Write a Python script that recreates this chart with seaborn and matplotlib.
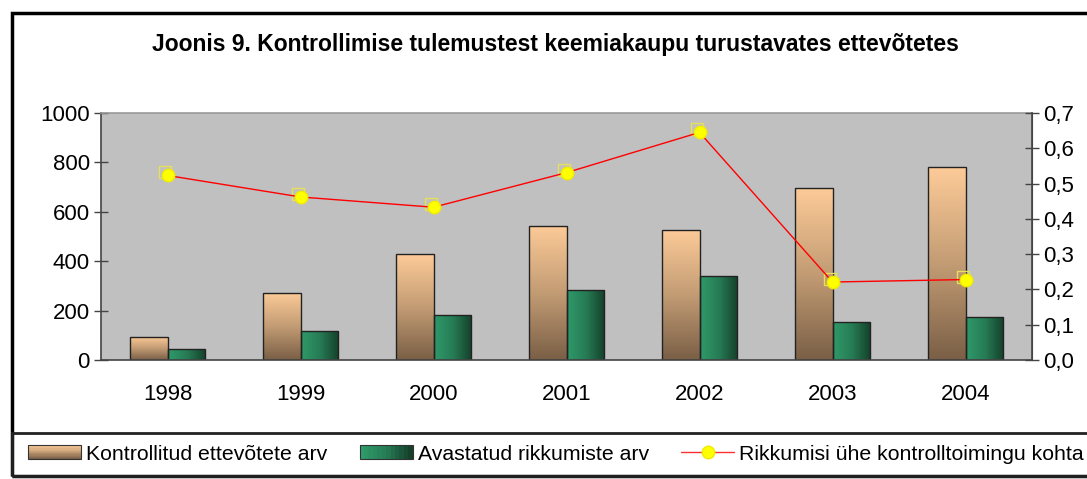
import numpy as np
import pandas as pd
import matplotlib.pyplot as plt
import seaborn as sns
from matplotlib.colors import LinearSegmentedColormap
from matplotlib.patches import Rectangle
from matplotlib.lines import Line2D
from matplotlib.legend_handler import HandlerBase
from matplotlib.transforms import ScaledTranslation

years = ["1998", "1999", "2000", "2001", "2002", "2003", "2004"]
kontrollitud = [94, 272, 429, 543, 528, 698, 781]
avastatud = [44, 118, 184, 282, 339, 152, 176]
rikkumisi = [0.523, 0.462, 0.433, 0.531, 0.645, 0.221, 0.228]

lbl_k = "Kontrollitud ettevõtete arv"
lbl_a = "Avastatud rikkumiste arv"
lbl_r = "Rikkumisi ühe kontrolltoimingu kohta"
title = "Joonis 9. Kontrollimise tulemustest keemiakaupu turustavates ettevõtetes"

brown_cmap = LinearSegmentedColormap.from_list("brown", ["#7a5f46", "#c39c74", "#fdcb98"])
green_cmap = LinearSegmentedColormap.from_list("green", ["#2f9a6a", "#267c55", "#15402a"])

df = pd.DataFrame({
    "year": years * 2,
    "value": kontrollitud + avastatud,
    "series": [lbl_k] * len(years) + [lbl_a] * len(years),
})

sns.set_style("white")
plt.rcParams["font.family"] = ["Liberation Sans", "DejaVu Sans"]
plt.rcParams["text.color"] = "black"
plt.rcParams["xtick.labelcolor"] = "black"
plt.rcParams["ytick.labelcolor"] = "black"

fig = plt.figure(figsize=(10.87, 4.79), dpi=100)
W, H = 1087, 479
ax = fig.add_axes([101 / W, 1 - 360 / H, (1032 - 101) / W, (360 - 113) / H])
ax.set_facecolor("#c0c0c0")

sns.barplot(data=df, x="year", y="value", hue="series", ax=ax, width=0.57,
            palette=["#c39c74", "#267c55"], edgecolor="#222222", linewidth=1,
            legend=False, saturation=1)

# gradient fills clipped to each bar
grad_v = np.linspace(0, 1, 256).reshape(-1, 1)
grad_h = np.linspace(0, 1, 256).reshape(1, -1)
for cont, cmap, grad in [(ax.containers[0], brown_cmap, grad_v),
                         (ax.containers[1], green_cmap, grad_h)]:
    for bar in cont:
        x0, y0 = bar.get_x(), bar.get_y()
        w, h = bar.get_width(), bar.get_height()
        im = ax.imshow(grad, cmap=cmap, aspect="auto", origin="lower",
                       extent=[x0, x0 + w, y0, y0 + h], zorder=bar.get_zorder())
        im.set_clip_path(bar)
        bar.set_facecolor("none")
        bar.set_zorder(bar.get_zorder() + 0.5)

ax.set_xlim(-0.5, len(years) - 0.5)
ax.set_ylim(0, 1000)
ax.set_yticks(range(0, 1001, 200))
ax.set_xticks(range(len(years)))
ax.set_xticklabels(years)
ax.set_xticks(np.arange(-0.5, len(years)), minor=True)
ax.set_xlabel("")
ax.set_ylabel("")
ax.tick_params(axis="x", which="major", length=0, pad=17, labelsize=16)
ax.tick_params(axis="x", which="minor", direction="inout", length=12, width=1, color="#444444")
ax.tick_params(axis="y", direction="inout", length=10, width=1, color="#444444",
               labelsize=16, pad=3, left=True)

for s in ["left", "bottom"]:
    ax.spines[s].set_color("#444444")
    ax.spines[s].set_linewidth(1.2)
ax.spines["top"].set_color("#999999")
ax.spines["top"].set_linewidth(1.2)
ax.spines["right"].set_color("#444444")

ax2 = ax.twinx()
xpos = np.arange(len(years))
# faint square "shadow" behind each marker
shift = ax2.transData + ScaledTranslation(-3 / 100, 3 / 100, fig.dpi_scale_trans)
ax2.plot(xpos, rikkumisi, ls="none", marker="s", markersize=9, markerfacecolor="none",
         markeredgecolor="#e6e05a", markeredgewidth=1, transform=shift, zorder=4)
sns.lineplot(x=xpos, y=rikkumisi, ax=ax2, color="#ff0000", lw=1,
             marker="o", markersize=9, markerfacecolor="#ffff00",
             markeredgecolor="#f0ec00", markeredgewidth=1, zorder=5)
ax2.set_ylim(0, 0.7)
ax2.set_xlim(-0.5, len(years) - 0.5)
ax2.set_yticks(np.arange(0, 0.71, 0.1))
ax2.set_yticklabels([f"{v:.1f}".replace(".", ",") for v in np.arange(0, 0.71, 0.1)])
ax2.tick_params(axis="y", direction="inout", length=10, width=1, color="#444444",
                labelsize=16, pad=3, right=True)
ax2.spines["right"].set_color("#444444")
ax2.spines["right"].set_linewidth(1.2)
for s in ["left", "bottom", "top"]:
    ax2.spines[s].set_visible(False)

fig.text(0.511, 1 - 45 / H, title, ha="center", va="center",
         fontsize=16.5, fontweight="bold")

# outer frame and legend box
fig.patches.append(Rectangle((12 / W, 1 - 476 / H), 1.2, (476 - 13) / H,
                             transform=fig.transFigure, fill=False,
                             edgecolor="black", linewidth=2.5))
fig.patches.append(Rectangle((12 / W, 1 - 476 / H), 1.2, (476 - 433) / H,
                             transform=fig.transFigure, fill=False,
                             edgecolor="#222222", linewidth=2))


class GradientHandler(HandlerBase):
    def __init__(self, cmap, vertical):
        super().__init__()
        self.cmap = cmap
        self.vertical = vertical

    def create_artists(self, legend, orig_handle, xdescent, ydescent,
                       width, height, fontsize, trans):
        n = 12
        arts = []
        for i in range(n):
            c = self.cmap(i / (n - 1))
            if self.vertical:
                r = Rectangle((-xdescent, -ydescent + i * height / n), width, height / n,
                              facecolor=c, edgecolor="none", transform=trans)
            else:
                r = Rectangle((-xdescent + i * width / n, -ydescent), width / n, height,
                              facecolor=c, edgecolor="none", transform=trans)
            arts.append(r)
        arts.append(Rectangle((-xdescent, -ydescent), width, height, fill=False,
                              edgecolor="#333333", lw=0.8, transform=trans))
        return arts


h_k = Rectangle((0, 0), 1, 1)
h_a = Rectangle((0, 0), 1, 1)
h_r = Line2D([], [], color="#ff3030", lw=1, marker="o", markersize=9,
             markerfacecolor="#ffff00", markeredgecolor="#f0ec00")
leg = fig.legend([h_k, h_a, h_r], [lbl_k, lbl_a, lbl_r], ncol=3,
                 loc="center left", bbox_to_anchor=(28 / W, 1 - 454 / H),
                 frameon=False, fontsize=15.3, handlelength=2.5, handleheight=0.65,
                 handletextpad=0.25, columnspacing=1.5, borderpad=0, borderaxespad=0,
                 handler_map={h_k: GradientHandler(brown_cmap, True),
                              h_a: GradientHandler(green_cmap, False)})

fig.savefig("out.png", dpi=100)
